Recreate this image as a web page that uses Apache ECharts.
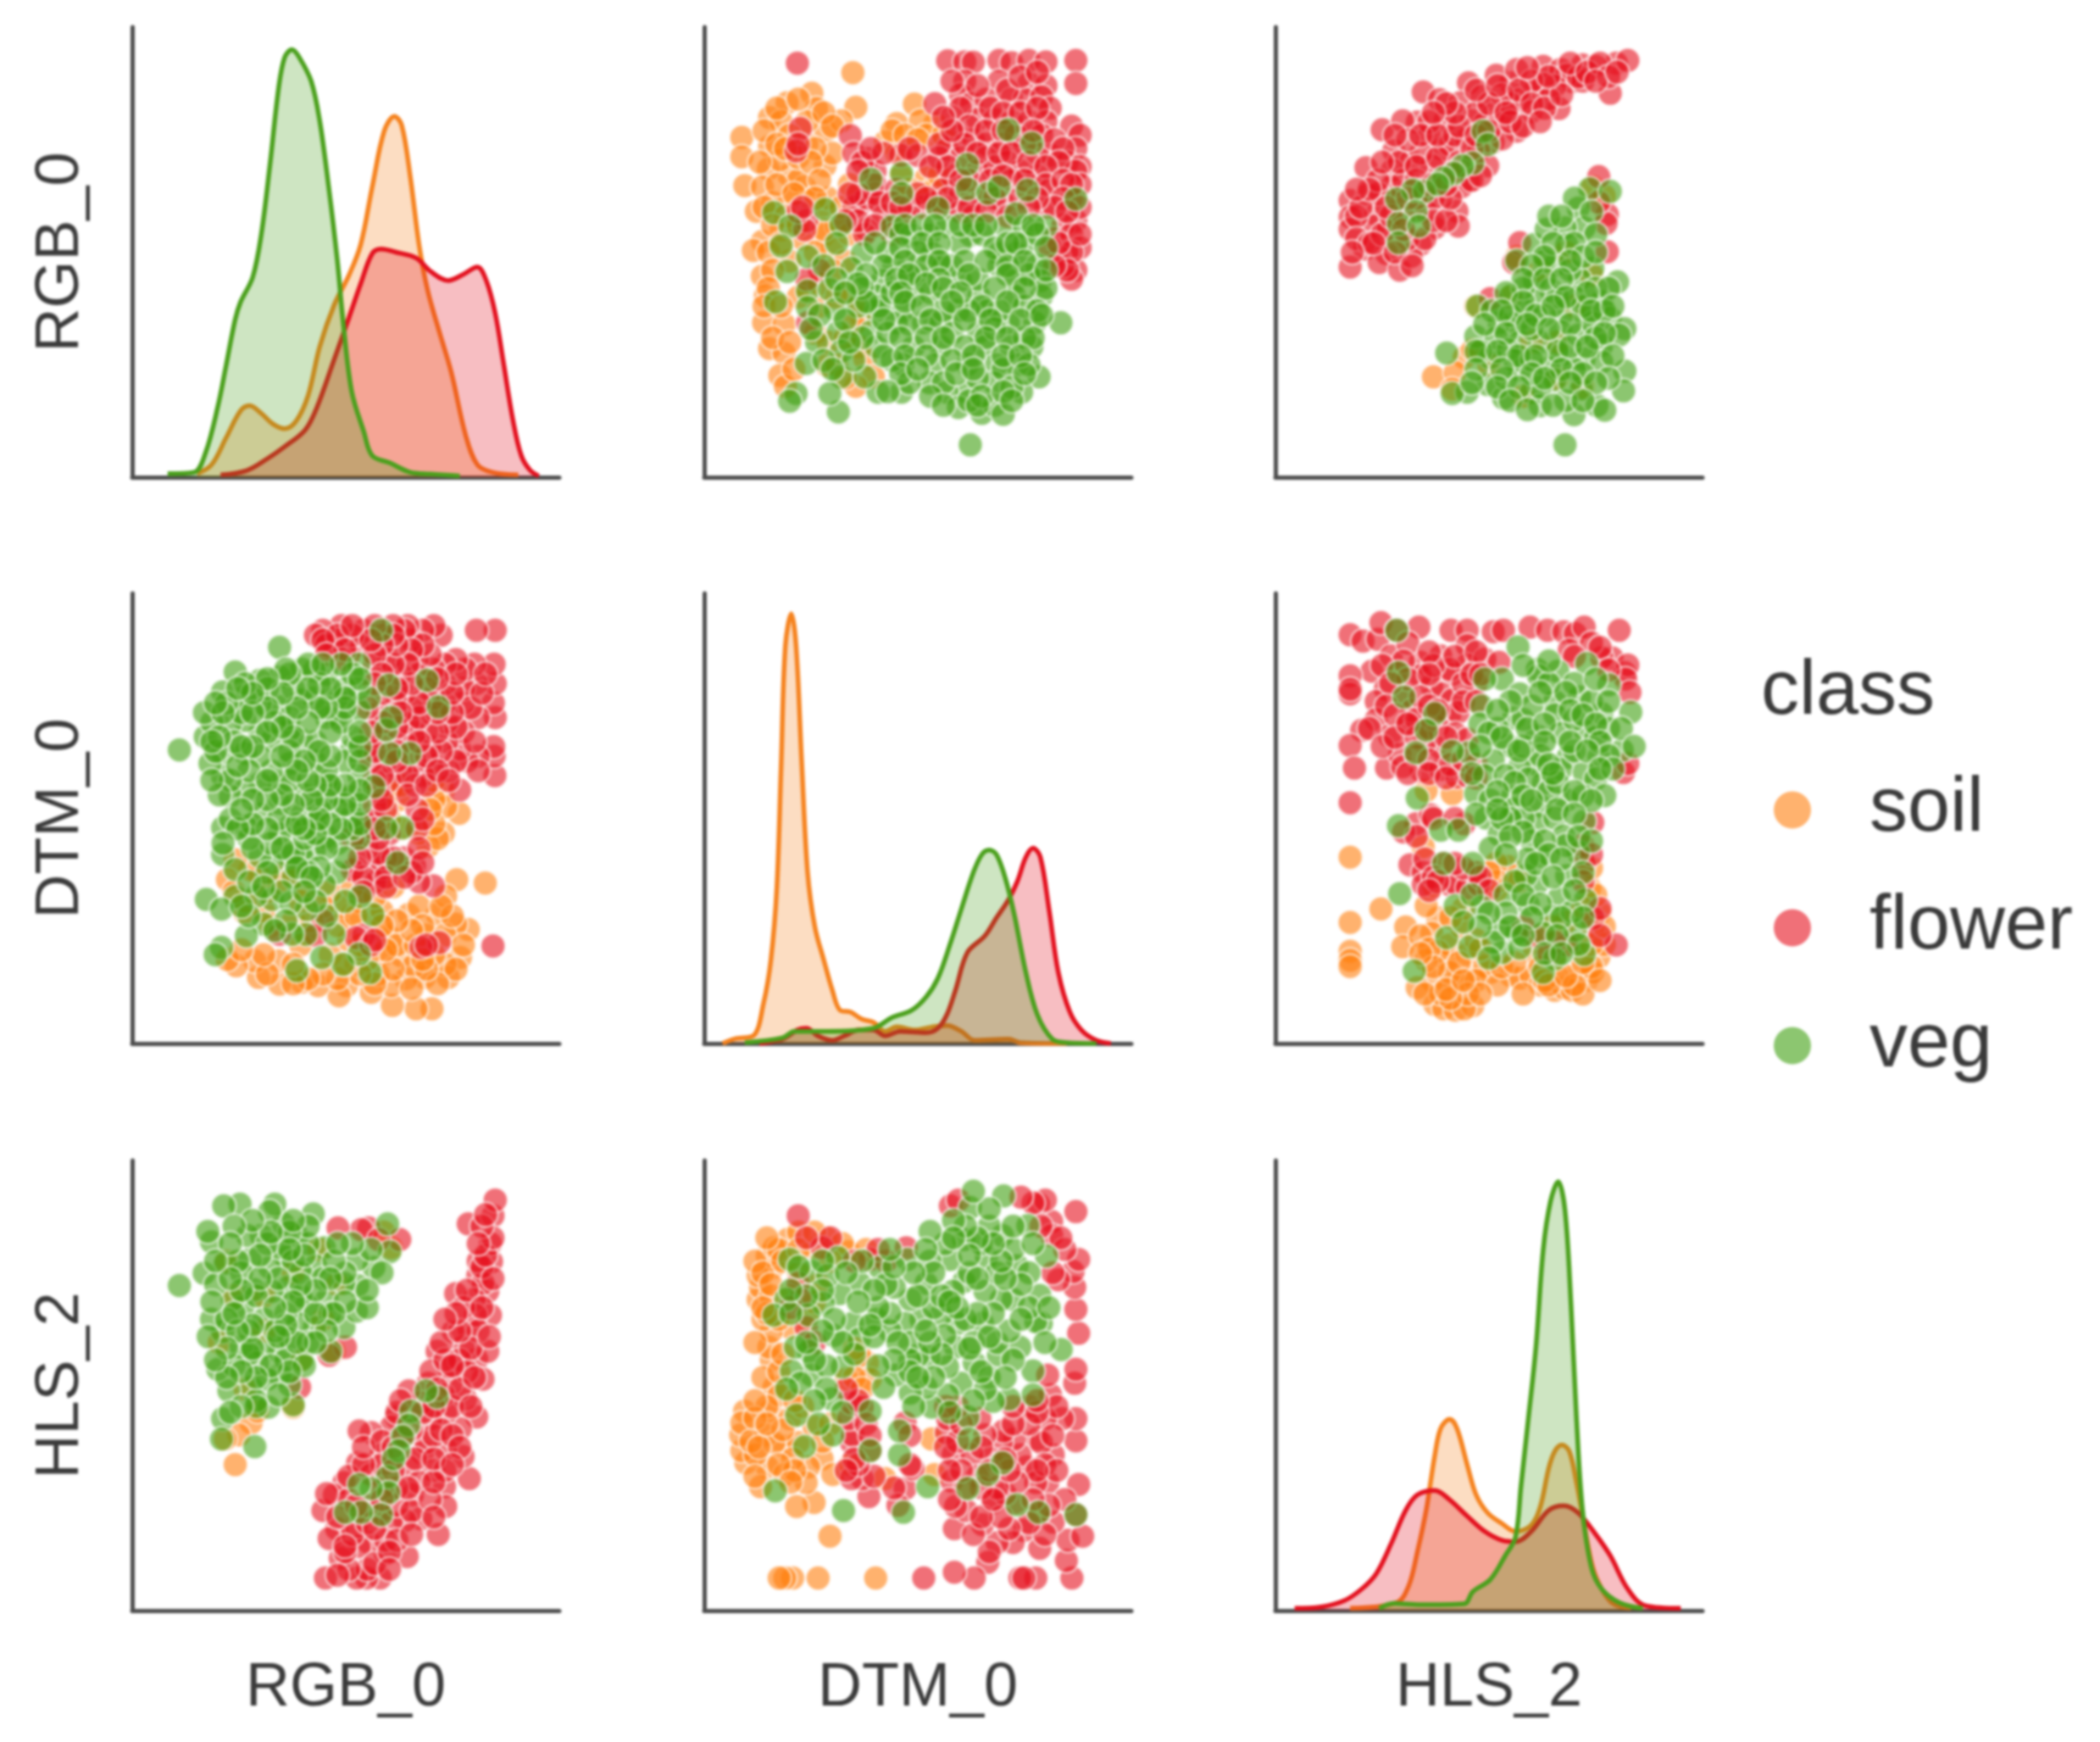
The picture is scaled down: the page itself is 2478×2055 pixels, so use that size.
<!DOCTYPE html>
<html>
<head>
<meta charset="utf-8">
<title>Pair plot</title>
<script src="https://cdn.jsdelivr.net/npm/echarts@6/dist/echarts.min.js"></script>
<style>
  html, body { margin: 0; padding: 0; background: #fff; }
  #main { width: 2478px; height: 2055px; filter: blur(1.5px); }
</style>
</head>
<body>
<div id="main"></div>
<script>
const classes = ["soil", "flower", "veg"];
const variables = ["RGB_0", "DTM_0", "HLS_2"];

// density curves, [x, y] in percent of the panel
const kdeRgbSoil = [[15.2,0.8],[18.6,2.8],[22,8.8],[25.4,14.8],[27.5,15.9],[30.2,14.2],[33,11.8],[35.7,10.8],[38.4,12.5],[41.2,18.2],[43.9,29],[47.3,38.3],[50.8,45],[53.5,51.7],[56.2,64.5],[59,76.9],[61.4,80.2],[63.1,78.2],[65.1,66.8],[67.2,51.4],[69.2,41.4],[72,32],[74.7,23.3],[78.1,9.2],[80.8,2.8],[84.3,1.1],[90.4,0.5]];
const kdeRgbFlower = [[20.7,0.5],[26.8,1.5],[31.6,4.1],[35.7,6.8],[40.5,10.5],[43.2,15.4],[47.3,26.2],[50.8,35.6],[53.5,43],[56.2,49.7],[58.3,50.7],[61.7,50],[66.5,48.7],[69.9,45.7],[74,43.7],[77.4,45],[80.8,46.7],[82.9,43.7],[85,36.4],[87,25],[89.1,12.9],[91.1,4.8],[93.2,1.5],[95.2,0.3]];
const kdeRgbVeg = [[8.3,0.8],[14.5,1.1],[17.2,5.5],[20,15.5],[22,24.9],[24.1,35],[25.4,39],[28.2,44.4],[30.2,53.8],[32.3,69.8],[34.3,86.6],[35.7,93.3],[37.4,95],[39.1,93.3],[41.9,88],[43.9,79.2],[46,64.5],[48,48.4],[49.4,34.4],[51.4,19],[54.2,10.2],[56.2,4.8],[60.3,3.2],[65.1,1.1],[69.9,0.7],[76.7,0.3]];
const kdeDtmSoil = [[4.3,0],[7.4,1.1],[11.5,1.7],[13.9,9],[15.6,18.5],[17,34.6],[18,61.5],[19,88.4],[20.4,95.5],[21.5,88.4],[22.8,62.9],[24.2,38],[25.9,25.9],[28,18.5],[30,11.8],[31.8,7.4],[34.2,7],[36.9,5.4],[39.6,4.7],[42.4,2.7],[45.1,3.7],[49.2,3],[53.4,3.7],[56.8,4],[60.2,2.7],[63.3,0.7],[71.2,1],[73.9,0.2],[84.9,0]];
const kdeDtmFlower = [[12.9,0],[18.4,1],[21.8,3],[23.9,3.4],[26.6,1.7],[30,0.7],[32.8,1.7],[36.2,3],[39.6,3],[42.4,1.7],[45.8,2.7],[52,2.4],[54.7,3.4],[56.8,6.4],[58.8,11.8],[61.6,20.2],[65.7,23.9],[68.4,27.9],[71.2,31.9],[73.3,36],[75.3,41.4],[77,43.4],[78.7,41.4],[80.8,29.3],[82.9,15.8],[85.6,7],[88.3,3],[91.8,0.7],[95.2,0]];
const kdeDtmVeg = [[9.5,0.2],[18.4,1.3],[21.1,2.7],[28.7,2.7],[39.6,3.4],[43.8,5.7],[48.6,7.4],[52,10.4],[54.7,14.5],[57.5,21.9],[60.2,29.9],[63,38],[65,42],[66.7,43],[68.4,42],[70.5,36.7],[72.6,28.6],[75.3,15.8],[78,6.4],[81.5,1],[84.9,0.2],[91.8,0]];
const kdeHlsSoil = [[17.5,0.5],[28.4,1.8],[31.2,5.5],[33.2,12.9],[35.3,22.3],[37.3,34.4],[38.7,40.5],[40.8,42.5],[42.5,40.5],[44.9,32.4],[47,25.7],[49.7,21.7],[53.1,19.3],[56.2,17.6],[59.9,19],[62,23],[64,31.7],[65.4,35.4],[67.1,36.8],[68.8,35.4],[70.5,28.4],[72.3,19],[74.3,9.5],[76.4,4.8],[79.1,1.5],[83.2,0.5]];
const kdeHlsFlower = [[4.5,0.5],[10.6,0.8],[16.1,2.2],[20.2,4.8],[23.6,8.2],[27.1,14.9],[30.5,22.3],[33.2,25.7],[37.3,26.7],[40.7,24.7],[44.9,21],[49,17.6],[53.1,15.6],[56.2,15.3],[59.9,17.6],[64,22.3],[67.5,23.3],[70.9,21.7],[75,16.9],[78.4,12.2],[82.5,4.8],[86.6,1.1],[94.9,0.5]];
const kdeHlsVeg = [[24.3,0.5],[27.7,1.6],[33.9,1.3],[44.2,1.5],[46.2,4.2],[50.3,6.9],[53.8,12.2],[56.2,16.3],[57.5,27.7],[59.2,42.5],[61,58.6],[62.7,80.2],[64.4,90.9],[66.2,95.3],[67.8,88.9],[69.2,68],[70.5,42.5],[71.9,22.3],[74,9.5],[76.4,4.8],[80.5,1.8],[86,0.5]];

// scatter readings: DTM_0 (x) against RGB_0 (y)
const dtmRgbSoil = [[8.8,75.5],[8.8,71.2],[9.5,64.8],[15.3,73.5],[19.4,83.2],[25.2,85.3],[26.3,81.9],[15.3,79.9],[28.3,76.9],[35.5,82.2],[34.8,89.9],[28.3,69.2],[19.8,67.2],[23.5,64.5],[15,68.5],[17.7,70.5],[13.6,64.5],[12.2,59.1],[13.6,52.4],[11.5,50.4],[13.6,44.7],[14.3,40.3],[13.9,34.3],[18.7,34],[15.3,28.6],[18.7,27.6],[17.7,22.6],[19,20.2],[28,53.8],[30,51.1],[25.2,61.8],[32.1,79.2],[45.1,78.6],[49.2,82.9],[54,78.6],[50.6,79.2],[42.4,74.5],[45.1,71.9],[52,66.5],[54,64.5],[36.9,35.7],[36.2,29],[37.6,26.3],[39.6,22.3],[35.5,20.2],[28.7,24.9],[33.5,41],[36.2,39],[20,62],[18,55],[20,48],[24,42],[27,38],[23,53],[26,50],[33,48],[28,60],[22,66],[24,74],[18,79],[24,79],[29,62],[31,56],[34,54],[16,61],[30,72],[22,71],[17,82],[22,84],[28,81],[30,78],[14,77],[20,76],[17,74],[26,73],[13,70],[19,73],[25,70],[27,66],[17,65],[21,63],[26,62],[14,60],[19,58],[16,56],[22,56],[28,55],[15,50],[18,52],[30,46],[16,46],[15,42],[22,40],[27,43],[31,40],[14,38],[18,38],[26,32],[29,30],[16,31],[20,30],[21,24],[33,31],[35,34],[31,25],[33,22],[44,77],[47,76],[52,76],[50,75],[32,60],[34,65],[56,76],[46,67],[48,64],[52,63],[55,67]];
const dtmRgbFlower = [[21.8,92],[57,92.5],[61,92.3],[63,92.2],[69,92.6],[72,92.1],[76,92.6],[80,92.3],[87,92.6],[87,87.5],[61,88],[69,88],[76,87.5],[80,87],[54,83],[60,85],[62.5,83],[66,84],[72,84],[75,84],[79,84.5],[81,82],[58,80],[64,79.5],[68,79.5],[72,79],[76,79],[80,79],[59,76],[63,75],[66,74],[70,74],[73,76],[79,76],[86,78],[88,76],[87,73],[57,73],[60,71],[66,71],[71,70],[74,68],[81,71.5],[78,72],[85,70],[88,69],[58,67],[64,68],[68,69],[72,66],[78,67],[81,64],[87,68],[88,65],[56,64],[60,63],[65,62],[70,61],[74,62],[80,60],[86,62],[87,57],[84,56],[82,53],[86,54],[88,51],[85,50],[83,49],[81,51],[87,46],[86,44],[84,47],[22.5,77.5],[21.5,72.5],[34.2,75.9],[38.3,70.8],[35,72],[40,68],[46,71.5],[50,71.5],[48,73],[55,71],[57,69],[37,61],[35,60],[38,62],[40,63],[42,58],[44,57],[38,55],[37.5,54],[36,57],[51,60],[47,58],[54,61],[56,60],[60,59],[63,58],[24,57],[23.5,55],[22,59],[24.2,34.3],[27,46],[24,44],[40,65],[45,64],[58,88],[64,87],[71,86],[74,89],[78,90],[60,82],[67,82],[70,81],[74,81],[78,82],[62,78],[66,77],[70,77],[75,74],[77,77],[82,75],[84,73],[83,70],[61,74],[64,72],[69,72],[72,72],[76,70],[80,69],[62,66],[67,66],[70,67],[75,66],[80,65],[84,66],[86,65],[84,62],[82,60],[88,60],[85,59],[78,62],[68,62],[60,66],[57,62],[62,60],[66,59],[71,58],[76,60],[86,50],[83,52],[85,46],[88,54],[82,47],[36,63],[34,63],[41,61],[44,61],[48,60],[50,63],[52,62],[46,60],[37,70],[42,72],[36,68],[39,73],[53,69],[44,54],[40,56],[33,57],[55,74],[58,77],[56,80],[22,74],[23,60]];
const dtmRgbVeg = [[44,55.7],[57,55.7],[70.5,55.7],[75,55.7],[80,55.7],[73,58.5],[48.5,53.8],[62.3,53.8],[52.7,53.8],[37,49.7],[53.4,49.7],[69,49.7],[73,49.7],[44.4,47],[56,47],[69,47],[78,47],[47.2,43.7],[60,43.7],[73,43.7],[78.7,43.7],[41.7,43.7],[49,40.3],[40.3,40.3],[64.3,40.3],[72.6,40.3],[79,40.3],[59.5,37],[46.5,37],[66.4,37],[40.3,37],[51.3,34.3],[55.4,34.3],[71.2,34.3],[77.4,34.3],[83.5,34.3],[45,34.3],[64.3,32.3],[39,32.3],[31.4,32.3],[40.3,29],[55.4,29],[71.9,29],[49,29],[76.7,29],[65.7,29],[46.5,25],[54,25],[61.6,25],[73.3,25],[68.4,25],[78.4,22.3],[32,22.3],[52.7,21],[67.8,21],[46.2,18.9],[40.7,18.9],[61.6,18.9],[56.8,18.9],[74.3,18.9],[59.5,15.5],[31.4,14.5],[65,14.2],[62.3,7.2],[16.3,58.8],[28.3,59.5],[32,56.1],[20.1,55.8],[18,51.4],[24.2,49],[28,47],[19.4,45.7],[34.5,46.4],[24.2,41.4],[29.3,41.7],[16.7,39],[24.2,37.7],[30.7,37.3],[26.3,30],[23.9,25.3],[32.1,28],[37.6,22.3],[21.5,18.6],[20,16.9],[29.4,18.6],[71.2,77.2],[76.7,74.2],[61.6,69.5],[61.6,64.1],[75.7,63.8],[66.4,63.1],[87,61.8],[54.7,59.8],[39,66.2],[46.2,67.5],[46.2,63.1],[69,64.5],[46,54],[50,50],[60,52],[65,54],[68,51],[75,52],[78,54],[43,50],[50,45],[58,47],[64,44],[76,45],[41,38],[44,41],[53,41],[56,37],[62,37],[69,37],[75,38],[80,42],[43,32],[48,34],[58,32],[61,29],[68,33],[75,31],[44,26],[58,26],[64,22],[70,24],[76,25],[48,21],[56,21],[72,20],[62,17],[68,16],[70,14],[36,38],[37,31],[35,26],[27,36],[28,26],[33,35],[47,56],[51,56],[54,56],[60,56],[63,56],[66,56],[77,56],[40,52],[46,51],[51,52],[55,52],[71,52],[73,52],[80,51],[42,47],[47,48],[52,47],[55,48],[61,48],[66,48],[71,47],[75,48],[38,45],[45,44],[48,45],[55,44],[62,45],[71,45],[80,46],[37,42],[46,41],[52,43],[56,42],[60,41],[68,42],[75,42],[38,39],[47,39],[51,38],[58,39],[65,38],[71,39],[78,37],[42,35],[53,35],[61,35],[67,35],[74,35],[79,36],[46,31],[52,31],[56,31],[66,31],[71,31],[77,31],[42,27],[47,27],[52,27],[63,27],[70,27],[74,27],[46,23],[50,24],[59,23],[63,24],[75,23],[43,19],[53,18],[65,18],[70,19],[56,16],[64,16],[72,17],[31,52],[31,44],[36,43],[33,41],[25,33],[34,30],[30,24]];

// scatter readings: HLS_2 (x) against RGB_0 (y)
const hlsRgbSoil = [[37,22.3],[44.2,26.6],[42.1,23.3],[41.4,19.6],[46.2,28.3],[74.3,64.5],[77,62.5],[46.9,38],[56.5,49],[60,30],[66,22],[70,38],[55,40],[50,25],[62,46],[72,20],[58,18],[68,50],[66,30],[74,45]];
const hlsRgbFlower = [[79.8,92],[82.5,92.6],[71.9,91.6],[75,91.3],[78.4,85.3],[69.5,87.9],[62.7,91.3],[66.8,90.6],[68.2,89.3],[65.4,86.9],[60.3,85.6],[55.1,87.6],[51.7,89.3],[56.5,90.6],[45.2,87.6],[34.6,85.6],[38.4,83.9],[43.2,83.2],[48.3,84.6],[51,80.6],[57.2,83.9],[59.9,81.2],[66.4,81.9],[62.7,87.3],[33.2,78.9],[39.7,79.2],[45.9,79.2],[25,77.2],[29.8,79.2],[56.5,76.9],[53.8,79.9],[49,78.6],[39,72.9],[44.9,75.2],[51,74.5],[53.1,75.2],[36,75.9],[27.7,72.5],[31.8,70.2],[21.2,68.8],[27.4,68.2],[36.6,69.2],[40.8,73.9],[47.6,72.5],[49.7,69.2],[45.2,65.8],[43.5,64.5],[17.5,61.5],[21.6,62.8],[23.6,58.4],[17.5,57.8],[22.9,55.8],[17.5,55.1],[42.5,59.1],[42.8,55.8],[37.3,55.4],[38.7,61.8],[20.9,50.7],[17.5,46.7],[26,49.7],[24.3,47.7],[29.1,46],[33.9,51.7],[31.8,49.1],[29.1,61.8],[27.1,64.5],[35.3,59.1],[26.4,55.1],[75.7,66.8],[77.7,58.4],[77.4,56.4],[77.7,50.1],[75.7,61.1],[57.2,52.1],[55.8,47.7],[50.3,39.7],[47,81],[55,83],[60,88],[64,84],[42,76],[34,72],[30,66],[24,63],[33,66],[37,62],[72,88],[53,85],[19,58],[20,60],[19,53],[22,52],[25,54],[27,58],[30,58],[31,53],[26,60],[24,66],[23,52],[28,50],[35,53],[37,57],[40,57],[33,62],[31,62],[36,65],[41,62],[40,65],[29,70],[33,69],[38,71],[43,70],[46,73],[42,68],[36,79],[31,75],[28,76],[34,76],[38,76],[43,78],[47,76],[50,77],[55,79],[58,78],[42,81],[50,83],[47,86],[40,83],[37,81],[52,87],[57,86],[60,83],[63,82],[67,85],[71,89],[64,89],[59,91],[69,92],[73,90],[76,92],[78,89],[75,88],[80,90],[54,81],[62,79],[46,66],[48,67],[25,70],[22,64],[19,64],[18,50],[30,55],[32,47]];
const hlsRgbVeg = [[48.6,76.9],[49.7,73.9],[46.2,69.8],[43.8,69.2],[41.8,67.5],[39.4,66.5],[34.9,63.5],[32.2,63.8],[38,65.1],[28.4,61.8],[32.9,59.1],[28.8,56.4],[33.6,55.8],[28.8,52.1],[73.6,64.1],[78.4,63.5],[70.9,59.8],[72.3,55.4],[67.8,55.4],[60.6,51.7],[68.2,51.7],[63.4,55.1],[56.5,48.1],[65.4,47.1],[74.3,46.4],[71.2,44],[80.1,43.4],[60.6,43.7],[55.1,40.3],[64.4,41.7],[61.3,39.3],[67.5,36.7],[72.6,36],[76.4,39],[78.4,35.3],[56.5,34.3],[52.4,34.3],[47.3,38],[50.7,37],[81.8,33],[46.9,31.3],[62,30],[66.8,32.3],[70.9,31.6],[76.4,29.3],[57.2,30],[50.3,26.6],[67.1,27.3],[40.1,27.6],[57.2,23.9],[72.3,26.3],[81.8,23.6],[64,24.3],[49.7,20.6],[44.9,18.9],[41.4,18.6],[53.4,17.6],[59.9,18.9],[71.6,19.6],[81.5,19.2],[62,15.9],[75.3,15.9],[69.9,13.9],[77.1,14.9],[67.8,7.2],[65.4,21.6],[51.7,31],[74.3,34.3],[80.5,31.6],[58.6,37],[54.5,28.3],[76.4,25.6],[66,40],[70,40],[63,36],[58,42],[55,36],[60,33],[66,28],[70,24],[75,31],[56,26],[62,20],[68,17],[72,38],[48,28],[54,22],[64,58],[69,46],[63,48],[60,26],[70,62],[74,59],[67,58],[75,54],[70,52],[65,52],[63,49],[72,49],[60,47],[69,48],[75,50],[58,44],[63,44],[67,44],[75,42],[78,42],[54,41],[58,39],[68,40],[73,41],[77,37],[53,37],[61,36],[65,38],[69,34],[74,37],[79,38],[49,34],[54,32],[59,34],[64,33],[77,32],[47,28],[52,28],[57,27],[61,27],[69,29],[73,29],[79,27],[47,24],[53,24],[60,23],[67,24],[72,23],[78,22],[52,20],[57,20],[63,22],[69,21],[75,21],[55,17],[59,15],[65,16],[72,17],[46,21]];

// scatter readings: HLS_2 (x) against DTM_0 (y)
const hlsDtmSoil = [[17.5,41.4],[24.7,29.9],[17.5,26.9],[17.5,20.5],[17.5,18.5],[17.5,17.1],[30.5,25.9],[29.8,21.5],[41.4,55.5],[35.3,56.2],[34.6,43.7],[40.1,18.5],[46.2,14.8],[36.6,14.1],[42.1,13.8],[33.2,12.4],[37.3,8.7],[39.4,7.7],[42.1,7.4],[46.2,8.4],[44.2,7.7],[38.7,11.1],[54.5,39.3],[55.8,37.3],[51.7,40],[50.3,15.8],[55.1,15.1],[57.2,14.5],[65.4,11.8],[67.5,12.4],[70.9,15.5],[72.9,14.1],[69.5,11.8],[38,27.9],[36.6,24.5],[35.3,30.6],[40.8,21.9],[33.9,23.9],[43.5,25.9],[44.9,19.8],[38,20.5],[51.7,34],[74.3,25.9],[73.6,34.6],[60.6,19.8],[75.7,19.2],[35.3,18.5],[49,17.1],[40.8,15.8],[59.9,15.1],[74.3,15.8],[47,23],[44,30],[37,35],[62,13],[36,21],[41,28],[43,18],[37,17],[34,20],[48,21],[47,14],[52,13],[53,17],[45,11],[41,10],[35,11],[48,11],[58,11],[56,18],[62,17],[66,15],[72,11],[74,17],[77,22],[70,13],[63,14],[76,29],[75,33],[74,39],[52,36],[50,38],[57,36],[40,12],[44,14],[64,13],[68,15],[72,18],[76,14],[66,20],[70,22],[62,24],[74,22],[77,26],[68,27],[72,30],[65,26]];
const hlsDtmFlower = [[17.5,90.8],[20.5,89.4],[24,89.8],[24.7,93.5],[33.6,92.5],[41.1,91.8],[44.9,91.8],[51,91.5],[53.4,91.8],[59.6,92.5],[63.7,91.8],[67.5,91.5],[70.2,91.1],[72.3,92.5],[80.5,91.8],[28.4,91.8],[44.9,88.4],[68.8,87.4],[78.8,85.7],[81.8,82.4],[82.5,84.1],[38.7,86.1],[33.9,84.7],[27.1,86.1],[22.6,82.7],[17.5,81.7],[17.5,77.7],[17.5,78.7],[28.4,82.4],[41.4,82],[44.9,84.1],[49,85.4],[52.4,84.7],[36.6,79.4],[38.7,77.7],[41.4,76.3],[33.9,81.7],[25.7,78.7],[23.6,76],[23.6,72],[30.5,76.7],[30.5,70.9],[26.7,68.3],[20.2,69.6],[17.5,66.2],[18.5,61.2],[26,61.2],[29.1,64.2],[34.2,60.5],[38.7,60.9],[42.5,59.2],[44.9,59.5],[40.8,73],[42.8,73.6],[38,70.3],[37.3,73.6],[38.7,65.6],[42.1,68.9],[44.9,67.6],[81.5,60.2],[82.5,62.2],[17.5,53.5],[32.9,48.8],[36.3,50.8],[44.2,48.8],[31.5,39.7],[34.6,38],[34.6,35.3],[40.8,35.3],[42.1,35.6],[44.9,34.6],[47.6,35.3],[39.4,40],[46.9,38],[72.3,40],[74.3,49.1],[79.8,21.9],[68.2,21.9],[65.4,22.5],[74.3,27.9],[60.6,23.9],[29.8,61.5],[40.8,83.1],[76.4,85.7],[35,67],[32,74],[37,84],[47,80],[31,89],[36,87],[42,86],[47,87],[30,85],[25,84],[31,81],[36,82],[44,80],[46,82],[48,82],[27,80],[34,77],[26,75],[28,73],[33,72],[36,75],[44,76],[47,76],[22,70],[25,66],[28,68],[33,68],[36,70],[40,68],[33,64],[36,63],[31,60],[36,60],[41,62],[44,63],[47,62],[40,59],[47,59],[31,71],[38,74],[74,89],[70,86],[76,88],[82,81],[78,83],[83,78],[37,50],[30,47],[33,46],[42,50],[35,41],[37,37],[44,39],[38,36],[48,37],[50,34],[72,44],[74,42],[36,34],[42,40],[72,36],[76,30],[76,24],[64,20],[58,26]];
const hlsDtmVeg = [[28.4,91.8],[56.8,88.1],[72.9,84.4],[61.3,83.1],[66.1,82.7],[53.1,81],[49,81],[28.8,82.4],[30.1,77],[78.1,79.7],[57.2,77.7],[71.2,77],[61.6,81.7],[48.3,75],[65.4,76],[76.4,73.3],[83.2,73.6],[65.4,73],[47.9,71],[55.8,72.3],[37.3,73.3],[35.3,69.6],[61.3,68.3],[72.6,69.3],[66.8,68.9],[81.2,65.2],[54.5,66.2],[32.9,64.6],[45.2,64.6],[41.4,64.9],[68.5,63.6],[51,62.9],[75.7,63.6],[61.3,61.9],[57.2,61.5],[49,59.5],[53.8,59.5],[66.8,60.9],[72.3,60.2],[62.7,57.8],[59.2,58.8],[75,58.8],[77.1,55.1],[46.9,55.5],[50.3,54.1],[55.5,54.8],[33.2,54.5],[68.2,54.1],[62,52.8],[49.3,50.1],[55.8,52.1],[61.3,48.8],[65.4,50.1],[28.8,48.4],[38.7,47.4],[67.5,46.1],[52.4,46.4],[72.3,49.4],[42.8,47.4],[50.3,43.4],[62,41.7],[70.9,42.4],[39.4,40],[46.2,40],[68.2,37.3],[61.3,35.6],[53.8,33],[29.1,33.3],[59.2,30.9],[66.4,32.3],[72.6,31.9],[42.1,30.6],[48.3,30.3],[64.7,28.2],[70.2,25.2],[40.1,23.5],[56.5,24.5],[52.4,25.2],[62.7,24.5],[45.5,21.5],[53.1,20.2],[72.3,19.8],[65.4,18.8],[32.5,16.1],[62.7,15.8],[57.2,21.2],[51,22.5],[69.5,29.3],[58.6,37.3],[64,80],[58,72],[70,72],[75,68],[62,64],[70,65],[56,58],[72,55],[58,50],[68,44],[60,45],[55,50],[64,56],[78,70],[52,70],[50,69],[74,76],[60,75],[58,66],[66,58],[58,84],[64,85],[70,80],[75,81],[55,76],[62,78],[68,78],[78,76],[81,70],[52,74],[59,70],[63,71],[69,74],[72,73],[75,71],[53,68],[63,67],[69,67],[76,67],[78,64],[84,66],[48,66],[57,65],[64,62],[73,65],[79,61],[46,60],[52,56],[58,55],[65,60],[70,56],[76,61],[74,54],[47,51],[53,50],[60,54],[66,52],[70,51],[52,52],[58,47],[63,45],[71,46],[74,45],[55,46],[64,42],[67,41],[72,38],[59,41],[54,42],[56,36],[61,40],[65,37],[70,34],[58,33],[62,31],[67,28],[72,28],[54,29],[50,29],[48,26],[60,28],[66,24],[71,22],[50,19],[55,26],[58,24],[63,20],[67,20],[44,27],[46,33]];

// col% = a + b * row%, how a variable's column scale relates to its row scale
const rgbScale = { a: 4.8, b: 0.866 };
const dtmScale = { a: 1.64, b: 0.93 };
const hlsScale = { a: 11.9, b: 0.774 };

const colLeft = [156, 831, 1505];
const rowTop = [32, 700, 1369];
const panelW = 504;
const panelH = 531;

const colors = ["#ff7f0e", "#e6101e", "#3fa010"];
const lineColors = ["#f5821e", "#e3101e", "#4aa01c"];
const axisColor = "#4d4d4d";
const textColor = "#3a3a3a";
const fontName = "Liberation Sans";

function fromRow(s) {
  // axis range when the stored value is row% but is drawn along a column
  return [-s.a / s.b, (100 - s.a) / s.b];
}
function fromCol(s) {
  // axis range when the stored value is col% but is drawn along a row
  return [s.a, s.a + 100 * s.b];
}
function flip(points) {
  return points.map(function (p) {
    return [p[1], p[0]];
  });
}

// row, col, x range, y range, then one list per class
const panels = [
  [0, 0, [0, 100], [0, 100], [kdeRgbSoil, kdeRgbFlower, kdeRgbVeg], true],
  [0, 1, [0, 100], [0, 100], [dtmRgbSoil, dtmRgbFlower, dtmRgbVeg]],
  [0, 2, [0, 100], [0, 100], [hlsRgbSoil, hlsRgbFlower, hlsRgbVeg]],
  [1, 0, fromRow(rgbScale), fromCol(dtmScale), [dtmRgbSoil, dtmRgbFlower, dtmRgbVeg].map(flip)],
  [1, 1, [0, 100], [0, 100], [kdeDtmSoil, kdeDtmFlower, kdeDtmVeg], true],
  [1, 2, [0, 100], [0, 100], [hlsDtmSoil, hlsDtmFlower, hlsDtmVeg]],
  [2, 0, fromRow(rgbScale), fromCol(hlsScale), [hlsRgbSoil, hlsRgbFlower, hlsRgbVeg].map(flip)],
  [2, 1, fromRow(dtmScale), fromCol(hlsScale), [hlsDtmSoil, hlsDtmFlower, hlsDtmVeg].map(flip)],
  [2, 2, [0, 100], [0, 100], [kdeHlsSoil, kdeHlsFlower, kdeHlsVeg], true],
];

const grids = [];
const xAxes = [];
const yAxes = [];
const series = [];

panels.forEach(function (p, i) {
  const row = p[0];
  const col = p[1];
  grids.push({ left: colLeft[col], top: rowTop[row], width: panelW, height: panelH });
  const base = {
    gridIndex: i,
    type: "value",
    axisLine: { show: true, onZero: false, lineStyle: { color: axisColor, width: 5 } },
    axisTick: { show: false },
    axisLabel: { show: false },
    splitLine: { show: false },
    nameLocation: "middle",
    nameTextStyle: { fontFamily: fontName, fontSize: 72, color: textColor },
  };
  xAxes.push(Object.assign({}, base, {
    min: p[2][0],
    max: p[2][1],
    name: row === 2 ? variables[col] : "",
    nameGap: 56,
  }));
  yAxes.push(Object.assign({}, base, {
    min: p[3][0],
    max: p[3][1],
    name: col === 0 ? variables[row] : "",
    nameGap: 48,
  }));
  p[4].forEach(function (points, k) {
    if (p[5]) {
      series.push({
        name: classes[k],
        type: "line",
        xAxisIndex: i,
        yAxisIndex: i,
        data: points,
        smooth: 0.35,
        showSymbol: false,
        lineStyle: { color: lineColors[k], width: 5.5 },
        itemStyle: { color: colors[k] },
        areaStyle: { color: lineColors[k], opacity: 0.27 },
        z: 2 + k,
      });
    } else {
      series.push({
        name: classes[k],
        type: "scatter",
        xAxisIndex: i,
        yAxisIndex: i,
        data: points,
        symbolSize: 29,
        itemStyle: { color: colors[k], opacity: 0.6, borderColor: "#fff", borderWidth: 2.5 },
        z: 2 + k,
      });
    }
  });
});

const chart = echarts.init(document.getElementById("main"), null, { renderer: "canvas" });
chart.setOption({
  animation: false,
  backgroundColor: "#fff",
  title: {
    text: "class",
    left: 2073,
    top: 767,
    textStyle: { fontFamily: fontName, fontSize: 90, fontWeight: "normal", color: textColor },
  },
  legend: {
    left: 2088,
    top: 899,
    orient: "vertical",
    icon: "circle",
    selectedMode: false,
    itemWidth: 44,
    itemHeight: 44,
    itemGap: 36,
    data: classes.map(function (name, k) {
      return { name: name, itemStyle: { color: colors[k], opacity: 0.6, borderWidth: 0 } };
    }),
    textStyle: {
      fontFamily: fontName,
      fontSize: 90,
      color: textColor,
      padding: [0, 0, 0, 64],
      lineHeight: 103,
    },
  },
  grid: grids,
  xAxis: xAxes,
  yAxis: yAxes,
  series: series,
});
</script>
</body>
</html>
